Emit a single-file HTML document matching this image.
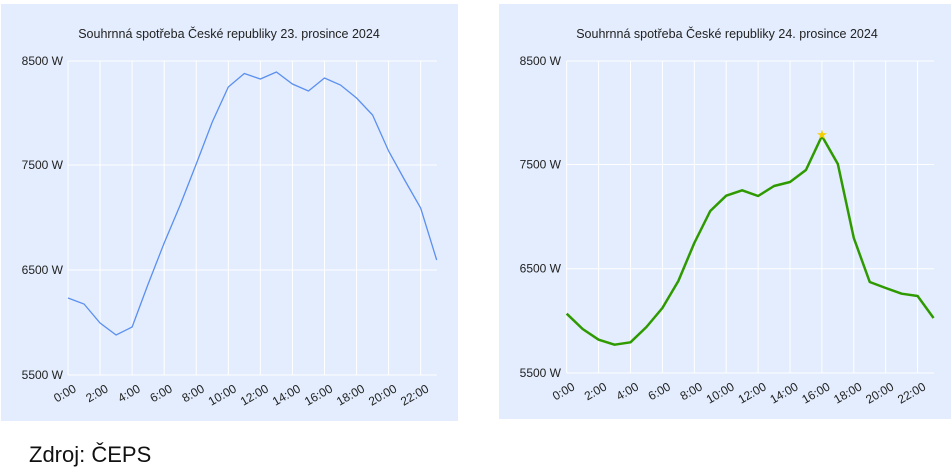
<!DOCTYPE html>
<html><head><meta charset="utf-8"><style>
body{margin:0;width:951px;height:472px;background:#fff;overflow:hidden;font-family:"Liberation Sans",sans-serif}
svg{position:absolute;left:0;top:0}
</style></head><body>
<svg width="951" height="472" xmlns="http://www.w3.org/2000/svg" font-family="Liberation Sans, sans-serif">
<rect x="1" y="4" width="457" height="417" fill="#e3edfd"/>
<rect x="499" y="4" width="452" height="415" fill="#e3edfd"/>
<g stroke="#fff" stroke-width="1">
<line x1="68" y1="61" x2="437" y2="61"/><line x1="68" y1="165" x2="437" y2="165"/><line x1="68" y1="270" x2="437" y2="270"/><line x1="68" y1="375" x2="437" y2="375"/>
<line x1="566.7" y1="61" x2="934" y2="61"/><line x1="566.7" y1="164.5" x2="934" y2="164.5"/><line x1="566.7" y1="268.7" x2="934" y2="268.7"/><line x1="566.7" y1="373" x2="934" y2="373"/>
</g>
<g id="vl" stroke="#fff"></g>
<text x="229" y="38" font-size="12.5" text-anchor="middle" fill="#222">Souhrnná spotřeba České republiky 23. prosince 2024</text>
<text x="727" y="38" font-size="12.5" text-anchor="middle" fill="#222">Souhrnná spotřeba České republiky 24. prosince 2024</text>
<g font-size="12" fill="#222" text-anchor="end">
<text x="63" y="65">8500 W</text><text x="63" y="169">7500 W</text><text x="63" y="274">6500 W</text><text x="63" y="379">5500 W</text>
<text x="561" y="65">8500 W</text><text x="561" y="168.5">7500 W</text><text x="561" y="272.7">6500 W</text><text x="561" y="377">5500 W</text>
</g>
<g id="xl" font-size="12" fill="#222" text-anchor="end"></g>
<polyline id="p1" fill="none" stroke="#5b8ff0" stroke-width="1.3"/>
<polyline id="p2" fill="none" stroke="#2e9a00" stroke-width="2.5" stroke-linejoin="round"/>
<text x="822" y="139" font-size="13" fill="#f5d000" text-anchor="middle">★</text>
<text x="29" y="462" font-size="22" fill="#111">Zdroj: ČEPS</text>
</svg>
<script>
const ns="http://www.w3.org/2000/svg";
const l=[298,304,323,335,327,284,243,205,164,122,87,73.5,79,72,84,91,78,85,98,115,151,180,208,260];
const r=[313.7,329,339.7,344.7,342.3,327,308,281,243,211,195.7,190.3,196,186,182,170,136,164,238,282,288,293.7,296,318];
document.getElementById('p1').setAttribute('points',l.map((y,i)=>(68+i*16.03)+','+y).join(' '));
document.getElementById('p2').setAttribute('points',r.map((y,i)=>(566.7+i*15.95)+','+y).join(' '));
const vl=document.getElementById('vl'),xl=document.getElementById('xl');
for(let h=0;h<=22;h+=2){
 [[68+h*16.03,61,375],[566.7+h*15.95,61,373]].forEach(([x,a,b])=>{
  const e=document.createElementNS(ns,'line');e.setAttribute('x1',x);e.setAttribute('x2',x);e.setAttribute('y1',a);e.setAttribute('y2',b);vl.appendChild(e);
  const t=document.createElementNS(ns,'text');t.textContent=h+':00';
  t.setAttribute('transform',`translate(${x+9},${b+16}) rotate(-30)`);xl.appendChild(t);
 });
}
</script>
</body></html>
